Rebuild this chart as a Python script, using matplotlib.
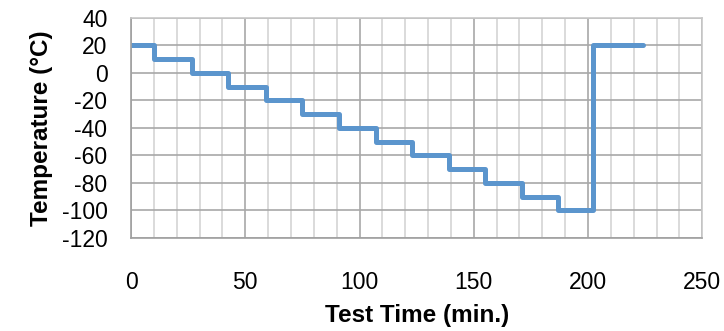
import matplotlib
matplotlib.use("Agg")
from matplotlib import pyplot as plt
from matplotlib.ticker import MultipleLocator

# step profile: (time in min, temperature in C)
step_times = [0, 10, 26.5, 42.5, 59, 75, 91, 107, 123, 139, 155, 171, 187, 202]
step_temps = [20, 10, 0, -10, -20, -30, -40, -50, -60, -70, -80, -90, -100, 20]
end_time = 224

x_ticks = [0, 50, 100, 150, 200, 250]
y_ticks = [40, 20, 0, -20, -40, -60, -80, -100, -120]

plt.rcParams['font.family'] = ['Liberation Sans', 'DejaVu Sans']
plt.rcParams['axes.unicode_minus'] = False

# build the staircase from the step list
xs, ys = [], []
for i, (t, v) in enumerate(zip(step_times, step_temps)):
    if i > 0:
        xs.append(t)
        ys.append(step_temps[i - 1])
    xs.append(t)
    ys.append(v)
xs.append(end_time)
ys.append(step_temps[-1])

fig = plt.figure(figsize=(7.24, 3.31), dpi=100)
ax = fig.add_axes([0.181, 0.281, 0.789, 0.665])

ax.plot(xs, ys, color='#5B95CD', lw=3.6, solid_joinstyle='round',
        solid_capstyle='round')

ax.set_xlim(0, 250)
ax.set_ylim(-120, 40)
ax.set_xticks(x_ticks)
ax.set_yticks(y_ticks)
ax.xaxis.set_minor_locator(MultipleLocator(10))

ax.grid(which='major', axis='both', color='#a8a8a8', lw=1.2)
ax.grid(which='minor', axis='x', color='#d4d4d4', lw=1.2)
ax.set_axisbelow(True)

for s in ax.spines.values():
    s.set_color('#c8c8c8')
    s.set_linewidth(1.2)
ax.spines['left'].set_color('#a0a0a0')
ax.spines['bottom'].set_color('#a0a0a0')

ax.tick_params(which='both', length=0)
ax.tick_params(axis='x', pad=24, labelsize=16.5)
ax.tick_params(axis='y', pad=17, labelsize=16.5)

ax.set_xlabel('Test Time (min.)', fontsize=17.5, fontweight='bold', labelpad=7)
ax.set_ylabel('Temperature (°C)', fontsize=17.5, fontweight='bold', labelpad=6)

fig.savefig('out.png', dpi=100)
